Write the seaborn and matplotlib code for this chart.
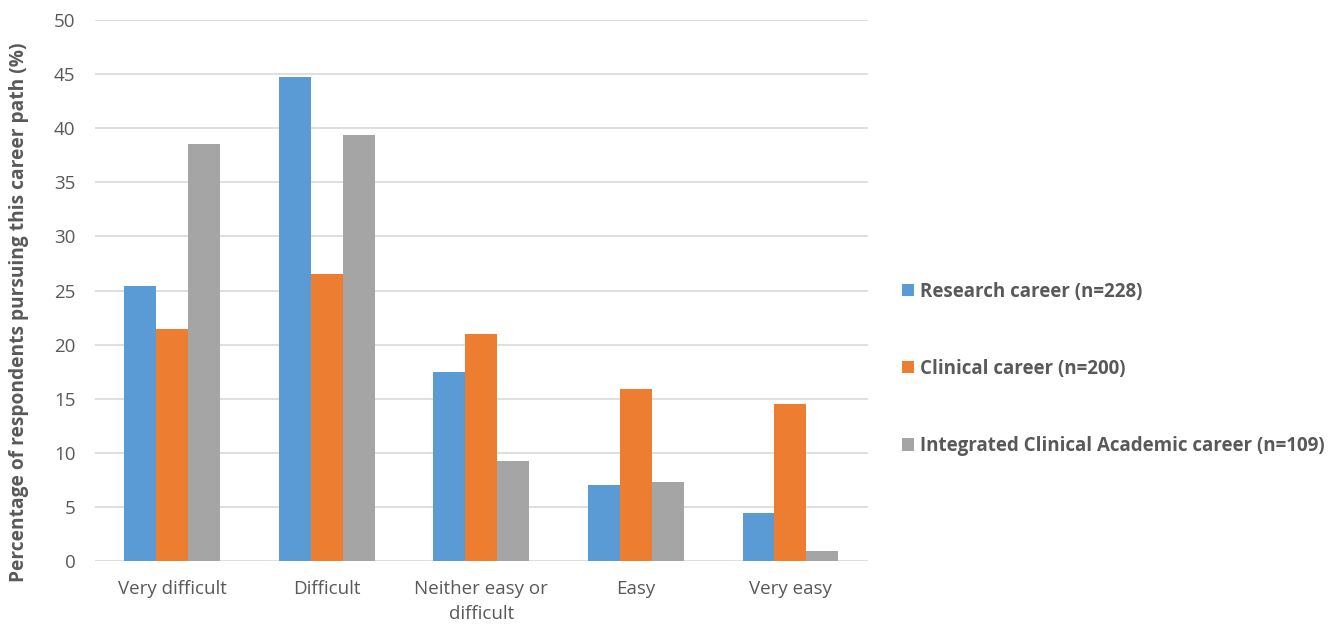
import pandas as pd
import matplotlib.pyplot as plt
import seaborn as sns

# data
categories = ['Very difficult', 'Difficult', 'Neither easy or\ndifficult', 'Easy', 'Very easy']
series = ['Research career (n=228)', 'Clinical career (n=200)',
          'Integrated Clinical Academic career (n=109)']
research = [25.4, 44.7, 17.5, 7.0, 4.4]
clinical = [21.4, 26.5, 21.0, 15.9, 14.5]
integrated = [38.5, 39.4, 9.2, 7.3, 0.9]
colors = ['#5b9bd5', '#ed7d31', '#a5a5a5']

df = pd.DataFrame({
    'category': categories * 3,
    'career': [s for s in series for _ in categories],
    'pct': research + clinical + integrated,
})

sns.set_style('white')
plt.rcParams['font.family'] = ['Open Sans', 'DejaVu Sans']

fig = plt.figure(figsize=(13.39, 6.25), dpi=100)
ax = fig.add_axes([0.071, 0.1024, 0.577, 0.8656])

sns.barplot(data=df, x='category', y='pct', hue='career', palette=colors,
            width=0.62, saturation=1, linewidth=0, ax=ax, legend=True)

ax.set_ylim(0, 50)
ax.set_yticks(range(0, 51, 5))
ax.set_xlim(-0.5, 4.5)
ax.yaxis.grid(True, color='#d9d9d9', linewidth=1.2)
ax.set_axisbelow(True)
for s in ax.spines.values():
    s.set_visible(False)
ax.tick_params(axis='both', length=0, labelsize=13.5, labelcolor='#595959')
ax.tick_params(axis='x', pad=14)
ax.tick_params(axis='y', pad=14)
for t in ax.get_xticklabels():
    t.set_linespacing(1.5)
    t.set_verticalalignment('top')
ax.set_xlabel('')
ax.set_ylabel('Percentage of respondents pursuing this career path (%)',
              fontsize=13.8, fontweight='bold', color='#595959')
ax.yaxis.set_label_coords(-0.086, 0.46)

handles, labels = ax.get_legend_handles_labels()
ax.get_legend().remove()
fig.legend(handles, labels, loc='center left', bbox_to_anchor=(0.661, 0.41),
           frameon=False, labelspacing=3.05, handlelength=0.65,
           handleheight=0.65, handletextpad=0.3,
           prop={'weight': 'bold', 'size': 13.5})
for t in fig.legends[0].get_texts():
    t.set_color('#595959')

fig.savefig('out.png', dpi=100)
